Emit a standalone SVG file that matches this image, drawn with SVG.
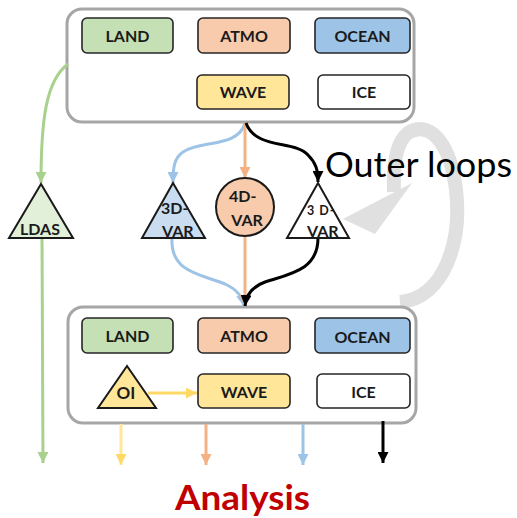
<svg xmlns="http://www.w3.org/2000/svg" width="517" height="518" viewBox="0 0 517 518">
  <defs>
    <style>
      .frame { fill: #ffffff; stroke: #a6a6a6; stroke-width: 3; }
      .box { stroke: #262626; stroke-width: 1.6; }
      .lbl { font-family: Lato, "Liberation Sans", sans-serif; font-weight: bold; font-size: 16px; fill: #1a1a1a; text-anchor: middle; }
      .tri { stroke: #1a1a1a; stroke-width: 2; stroke-linejoin: miter; }
      .flow { fill: none; stroke-width: 3; }
    </style>
    <marker id="ah-green" viewBox="0 0 10 10" refX="10" refY="5" markerWidth="11" markerHeight="11" markerUnits="userSpaceOnUse" orient="auto"><path d="M0,0 L10,5 L0,10 z" fill="#a9d18e"/></marker>
    <marker id="ah-blue" viewBox="0 0 10 10" refX="10" refY="5" markerWidth="11" markerHeight="11" markerUnits="userSpaceOnUse" orient="auto"><path d="M0,0 L10,5 L0,10 z" fill="#9dc3e6"/></marker>
    <marker id="ah-orange" viewBox="0 0 10 10" refX="10" refY="5" markerWidth="11" markerHeight="11" markerUnits="userSpaceOnUse" orient="auto"><path d="M0,0 L10,5 L0,10 z" fill="#f4b183"/></marker>
    <marker id="ah-black" viewBox="0 0 10 10" refX="10" refY="5" markerWidth="11" markerHeight="11" markerUnits="userSpaceOnUse" orient="auto"><path d="M0,0 L10,5 L0,10 z" fill="#000000"/></marker>
    <marker id="ah-yellow" viewBox="0 0 10 10" refX="10" refY="5" markerWidth="11" markerHeight="11" markerUnits="userSpaceOnUse" orient="auto"><path d="M0,0 L10,5 L0,10 z" fill="#ffd966"/></marker>
  </defs>

  <rect width="517" height="518" fill="#ffffff"/>

  <!-- outer-loop circular arrow -->
  <g id="outer-loop">
    <path d="M 400 302 C 445 298, 462 240, 456 190 C 450 140, 428 120, 408 133 C 396 142, 393 165, 394 192" fill="none" stroke="#e0e0e0" stroke-width="14"/>
    <polygon points="412,183 343,219 375,234" fill="#e0e0e0"/>
  </g>

  <!-- component frames -->
  <g id="frame-top">
    <rect class="frame" x="67" y="9" width="347" height="113" rx="15"/>
  </g>
  <g id="frame-bottom">
    <rect class="frame" x="68" y="307" width="348" height="116" rx="15"/>
  </g>

  <!-- connectors -->
  <g id="connectors">
    <path class="flow" stroke="#a9d18e" d="M 68 64 C 46 80, 41 120, 41 183" marker-end="url(#ah-green)"/>
    <path class="flow" stroke="#a9d18e" d="M 42 238 L 43 463" marker-end="url(#ah-green)"/>

    <path class="flow" stroke="#9dc3e6" d="M 245 123 C 238 148, 200 140, 183 152 C 174 158, 173 168, 173 183" marker-end="url(#ah-blue)"/>
    <path class="flow" stroke="#9dc3e6" d="M 172 238 C 170 272, 200 274, 225 284 C 238 290, 242 297, 244 306" marker-end="url(#ah-blue)"/>

    <path class="flow" stroke="#f4b183" d="M 245 123 L 245 178" marker-end="url(#ah-orange)"/>
    <path class="flow" stroke="#f4b183" d="M 245 237 L 245 306" marker-end="url(#ah-orange)"/>

    <path class="flow" stroke="#000000" d="M 246 123 C 256 150, 295 140, 308 155 C 316 163, 318 170, 318 182" marker-end="url(#ah-black)"/>
    <path class="flow" stroke="#000000" d="M 318 238 C 318 270, 290 274, 265 282 C 251 287, 246 296, 245 306" marker-end="url(#ah-black)"/>

    <path class="flow" stroke="#ffd966" d="M 148 393 L 197 393" marker-end="url(#ah-yellow)"/>

    <path class="flow" stroke="#ffe699" d="M 121 424 L 121 465" marker-end="url(#ah-yellow)"/>
    <path class="flow" stroke="#f4b183" d="M 206 424 L 206 465" marker-end="url(#ah-orange)"/>
    <path class="flow" stroke="#9dc3e6" d="M 303 424 L 303 465" marker-end="url(#ah-blue)"/>
    <path class="flow" stroke="#000000" d="M 383 421 L 383 463" marker-end="url(#ah-black)"/>
  </g>

  <!-- top row of components -->
  <g id="land-top"><rect class="box" x="82" y="18" width="91" height="35" rx="5" fill="#c5e0b4"/><text class="lbl" x="127.5" y="41.5">LAND</text></g>
  <g id="atmo-top"><rect class="box" x="198" y="18" width="92" height="35" rx="5" fill="#f8cbad"/><text class="lbl" x="244" y="41.5">ATMO</text></g>
  <g id="ocean-top"><rect class="box" x="315" y="18" width="95" height="35" rx="5" fill="#9dc3e6"/><text class="lbl" x="362.5" y="42">OCEAN</text></g>
  <g id="wave-top"><rect class="box" x="197" y="75" width="92" height="34" rx="5" fill="#ffe699"/><text class="lbl" x="243" y="98">WAVE</text></g>
  <g id="ice-top"><rect class="box" x="318" y="75" width="92" height="34" rx="5" fill="#ffffff"/><text class="lbl" x="364" y="98">ICE</text></g>

  <!-- assimilation schemes -->
  <g id="ldas">
    <polygon class="tri" points="41,184 9,238 73,238" fill="#e2f0d9"/>
    <text class="lbl" x="40" y="235">LDAS</text>
  </g>
  <g id="var3d-ocean">
    <polygon class="tri" points="173,183 142,238 205,238" fill="#c9dcf0"/>
    <text class="lbl" x="161" y="214" style="text-anchor:start">3D-</text>
    <text class="lbl" x="162" y="237" style="text-anchor:start">VAR</text>
  </g>
  <g id="var4d-atmo">
    <circle cx="245" cy="207" r="29" fill="#f8cbad" stroke="#1a1a1a" stroke-width="2"/>
    <text class="lbl" x="229" y="202" style="text-anchor:start">4D-</text>
    <text class="lbl" x="247" y="226">VAR</text>
  </g>
  <g id="var3d-ice">
    <polygon class="tri" points="318,183 287,238 349,238" fill="#ffffff"/>
    <text class="lbl" x="307" y="215" style="text-anchor:start;font-size:12.5px;letter-spacing:1px">3 D-</text>
    <text class="lbl" x="307" y="237" style="text-anchor:start">VAR</text>
  </g>

  <!-- bottom row of components -->
  <g id="land-bottom"><rect class="box" x="82" y="318" width="91" height="35" rx="5" fill="#c5e0b4"/><text class="lbl" x="127.5" y="341.5">LAND</text></g>
  <g id="atmo-bottom"><rect class="box" x="198" y="318" width="92" height="35" rx="5" fill="#f8cbad"/><text class="lbl" x="244" y="341.5">ATMO</text></g>
  <g id="ocean-bottom"><rect class="box" x="315" y="318" width="95" height="35" rx="5" fill="#9dc3e6"/><text class="lbl" x="362.5" y="343">OCEAN</text></g>
  <g id="oi">
    <polygon class="tri" points="127,366 98,408 156,408" fill="#ffe699"/>
    <text class="lbl" x="126" y="399" style="font-size:17px">OI</text>
  </g>
  <g id="wave-bottom"><rect class="box" x="198" y="374" width="92" height="34" rx="5" fill="#ffe699"/><text class="lbl" x="244" y="397.5">WAVE</text></g>
  <g id="ice-bottom"><rect class="box" x="317" y="374" width="93" height="34" rx="5" fill="#ffffff"/><text class="lbl" x="363.5" y="397.5">ICE</text></g>

  <!-- annotations -->
  <text id="outer-loops-label" x="325" y="177" font-family="Lato, 'Liberation Sans', sans-serif" font-size="34" fill="#000000" textLength="187" lengthAdjust="spacingAndGlyphs">Outer loops</text>
  <text id="analysis-label" x="175" y="510" font-family="Lato, 'Liberation Sans', sans-serif" font-weight="bold" font-size="34" fill="#c00000" textLength="135" lengthAdjust="spacingAndGlyphs">Analysis</text>
</svg>
